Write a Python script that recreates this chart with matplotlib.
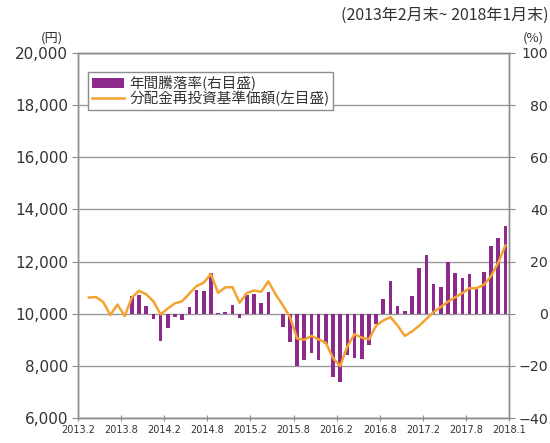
import matplotlib
matplotlib.use('Agg')
import matplotlib.pyplot as plt
import numpy as np
from matplotlib.patches import Patch
from matplotlib.lines import Line2D

plt.rcParams['font.family'] = ['Noto Sans CJK JP', 'DejaVu Sans']

tick_labels = ['2013.2', '2013.8', '2014.2', '2014.8', '2015.2', '2015.8',
               '2016.2', '2016.8', '2017.2', '2017.8', '2018.1']

# 年間騰落率 (%), monthly, 2013.2 .. 2018.1 (60 months)
annual_return = [0, 0, 0, 0, 0, 0, 0,
                 6.9, 7.2, 3.0, -2.2, -10.3, -5.5, -1.3, -2.5, 2.4, 9.0, 8.9,
                 15.7, 0.3, 0.5, 3.4, -1.5, 7.0, 7.4, 4.3, 8.4, 0.0, -5.2,
                 -11.0, -20.0, -17.6, -15.0, -17.6, -11.8, -24.2, -26.1, -15.7,
                 -17.0, -17.3, -12.0, -3.9, 5.6, 12.4, 3.0, 1.0, 6.9, 17.6,
                 22.5, 11.5, 10.2, 19.9, 15.7, 13.7, 15.4, 10.2, 15.9, 25.8,
                 29.0, 33.7]

# 分配金再投資基準価額 (円)
nav = [np.nan, 10620, 10640, 10450, 9950, 10350, 9910, 10620, 10880, 10745,
       10470, 9975, 10200, 10400, 10480, 10770, 11060, 11190, 11520, 10800,
       11010, 11020, 10420, 10790, 10890, 10840, 11240, 10745, 10330, 9880,
       9050, 9000, 9150, 9017, 8886, 8300, 7990, 8755, 9214, 9083, 9017,
       9540, 9740, 9870, 9540, 9150, 9320, 9540, 9800, 10065, 10260, 10460,
       10630, 10790, 10980, 10980, 11110, 11440, 11960, 12620]

left_ticks = [6000, 8000, 10000, 12000, 14000, 16000, 18000, 20000]
right_ticks = [-40, -20, 0, 20, 40, 60, 80, 100]

bar_color = '#8C2B8C'
line_color = '#F4A330'
gray = '#8c8c8c'
text_color = '#333333'

fig = plt.figure(figsize=(5.5, 4.43), dpi=100)
ax = fig.add_axes([78/550, 1-418/443, (509-78)/550, (418-53)/443])
ax2 = ax.twinx()

x = np.arange(len(annual_return)) + 0.5

ax2.bar(x, annual_return, width=0.5, color=bar_color, zorder=2)
ax2.set_ylim(-40, 100)
ax2.set_yticks(right_ticks)
ax2.set_yticklabels([f'{v}'.replace('-', '\u2212') for v in right_ticks])
ax2.grid(axis='y', color='#9a9a9a', linewidth=1.0, zorder=0)
ax2.set_axisbelow(True)

ax.plot(x, nav, color=line_color, linewidth=1.8, zorder=3)
ax.set_ylim(6000, 20000)
ax.set_yticks(left_ticks)
ax.set_yticklabels([f'{v:,}' for v in left_ticks])
ax.set_xlim(0, 60)
ax.set_xticks(np.arange(0, 61, 6))
ax.set_xticklabels(tick_labels)

ax.set_zorder(ax2.get_zorder() + 1)
ax.patch.set_visible(False)

for a in (ax, ax2):
    for s in a.spines.values():
        s.set_color(gray)
        s.set_linewidth(1.0)

ax.tick_params(axis='y', direction='out', length=4, color=gray, pad=3,
               labelsize=11, labelcolor=text_color)
ax.tick_params(axis='x', direction='inout', length=4, color=gray, pad=3,
               labelsize=7, labelcolor=text_color)
ax2.tick_params(axis='y', direction='out', length=4, color=gray, pad=24,
                labelsize=10.2, labelcolor=text_color)
for t in ax2.get_yticklabels():
    t.set_horizontalalignment('right')
for t in ax.get_yticklabels() + ax.get_xticklabels() + ax2.get_yticklabels():
    t.set_family(['DejaVu Sans'])

fig.text(52/550, 1-38/443, '(円)', ha='center', va='center', fontsize=9.5, color=text_color)
fig.text(533/550, 1-38/443, '(%)', ha='center', va='center', fontsize=9.5, color=text_color)
fig.text(549/550, 1-15/443, '(2013年2月末~ 2018年1月末)', ha='right', va='center',
         fontsize=11.5, color=text_color)

handles = [Patch(facecolor=bar_color, edgecolor='none'),
           Line2D([0], [0], color=line_color, linewidth=1.8)]
labels = ['年間騰落率(右目盛)', '分配金再投資基準価額(左目盛)']
leg = ax.legend(handles, labels, loc='upper left',
                bbox_to_anchor=(88/550, 1-72/443), bbox_transform=fig.transFigure,
                fontsize=10.5, frameon=True, fancybox=False, framealpha=1,
                edgecolor=gray, borderpad=0.25, labelspacing=0.0,
                handlelength=2.2, handletextpad=0.4, borderaxespad=0)
leg.get_frame().set_linewidth(1.0)
for t in leg.get_texts():
    t.set_color(text_color)

fig.savefig('out.png', dpi=100)
